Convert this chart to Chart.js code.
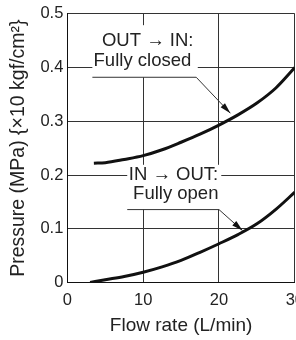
<!DOCTYPE html>
<html lang="en">
<head>
    <meta charset="UTF-8">
    <title>Pressure vs flow rate</title>
    <script src="https://cdn.jsdelivr.net/npm/chart.js@4.4.1/dist/chart.umd.min.js"></script>
    <style>
        * {
            margin: 0;
            padding: 0;
        }
        html, body {
            width: 296px;
            height: 340px;
            overflow: hidden;
            background: #fff;
        }
        /* canvas a bit wider than the window so the "30" label gets cut like the original */
        canvas {
            display: block;
        }
    </style>
</head>
<body>
<canvas id="myChart" width="312" height="340" style="width:312px;height:340px"></canvas>
<script>
    // values
    var flowClosed = [3.5, 5, 7.5, 10, 12.5, 15, 17.5, 20, 22.5, 25, 27.5, 30];
    var pressClosed = [0.222, 0.223, 0.229, 0.236, 0.247, 0.261, 0.276, 0.293, 0.312, 0.334, 0.362, 0.400];
    var flowOpen = [3, 5, 7.5, 10, 12.5, 15, 17.5, 20, 22.5, 25, 27.5, 30];
    var pressOpen = [0, 0.005, 0.011, 0.019, 0.029, 0.041, 0.056, 0.072, 0.089, 0.109, 0.136, 0.168];
    var xTicks = [0, 10, 20, 30];
    var yTicks = [0, 0.1, 0.2, 0.3, 0.4, 0.5];
    var noteClosed = ["OUT \u2192 IN:", "Fully closed"];
    var noteOpen = ["IN \u2192 OUT:", "Fully open"];

    var FONT = '"Liberation Sans", Arial, Helvetica, sans-serif';
    var INK = '#222';

    function pts(xs, ys) {
        var out = [];
        for (var i = 0; i < xs.length; i++) out.push({x: xs[i], y: ys[i]});
        return out;
    }

    // where the callout labels sit, in data units
    var notes = [
        {text: noteClosed, box: [3.3, 17.2, 0.479, 0.382], under: [3.3, 17.0, 0.382],
            lines: [[10.6, 0.449], [9.9, 0.412]], tip: [21.5, 0.315]},
        {text: noteOpen, box: [7.9, 20.3, 0.219, 0.1356], under: [7.9, 20.0, 0.1356],
            lines: [[14.0, 0.2], [14.3, 0.1655]], tip: [23.1, 0.0965]}
    ];

    var calloutPlugin = {
        id: 'callouts',
        beforeDatasetsDraw: function (chart) {
            // white boxes knock out the grid behind the labels
            var c = chart.ctx, xs = chart.scales.x, ys = chart.scales.y;
            c.save();
            c.fillStyle = '#fff';
            notes.forEach(function (n) {
                var x0 = xs.getPixelForValue(n.box[0]), x1 = xs.getPixelForValue(n.box[1]);
                var y0 = ys.getPixelForValue(n.box[2]), y1 = ys.getPixelForValue(n.box[3]);
                c.fillRect(x0, y0, x1 - x0, y1 - y0);
            });
            c.restore();
        },
        afterDatasetsDraw: function (chart) {
            var c = chart.ctx, xs = chart.scales.x, ys = chart.scales.y;
            c.save();
            c.font = '18.5px ' + FONT;
            c.textAlign = 'center';
            c.textBaseline = 'middle';
            notes.forEach(function (n) {
                c.fillStyle = INK;
                n.text.forEach(function (t, i) {
                    c.fillText(t, xs.getPixelForValue(n.lines[i][0]), ys.getPixelForValue(n.lines[i][1]));
                });
                var ux0 = xs.getPixelForValue(n.under[0]), ux1 = xs.getPixelForValue(n.under[1]);
                var uy = ys.getPixelForValue(n.under[2]);
                var tx = xs.getPixelForValue(n.tip[0]), ty = ys.getPixelForValue(n.tip[1]);
                c.strokeStyle = '#333';
                c.lineWidth = 1;
                c.beginPath();
                c.moveTo(ux0, uy);
                c.lineTo(ux1, uy);
                c.lineTo(tx, ty);
                c.stroke();
                // arrow head
                var a = Math.atan2(ty - uy, tx - ux1), len = 11, w = 3;
                c.fillStyle = '#111';
                c.beginPath();
                c.moveTo(tx, ty);
                c.lineTo(tx - len * Math.cos(a) + w * Math.sin(a), ty - len * Math.sin(a) - w * Math.cos(a));
                c.lineTo(tx - len * Math.cos(a) - w * Math.sin(a), ty - len * Math.sin(a) + w * Math.cos(a));
                c.closePath();
                c.fill();
            });
            c.restore();
        }
    };

    var ctx = document.getElementById('myChart').getContext('2d');
    var myChart = new Chart(ctx, {
        type: 'line',
        data: {
            datasets: [{
                label: 'OUT to IN',
                data: pts(flowClosed, pressClosed),
                borderColor: '#111',
                borderWidth: 3,
                pointRadius: 0,
                fill: false,
                cubicInterpolationMode: 'monotone'
            }, {
                label: 'IN to OUT',
                data: pts(flowOpen, pressOpen),
                borderColor: '#111',
                borderWidth: 3,
                pointRadius: 0,
                fill: false,
                cubicInterpolationMode: 'monotone'
            }]
        },
        options: {
            responsive: false,
            animation: false,
            layout: {padding: {left: 3, top: 3, right: 0, bottom: 0}},
            plugins: {
                legend: {display: false},
                tooltip: {enabled: false}
            },
            scales: {
                x: {
                    type: 'linear',
                    min: 0,
                    max: 30,
                    afterBuildTicks: function (s) {
                        s.ticks = xTicks.map(function (v) { return {value: v}; });
                    },
                    grid: {color: '#333', lineWidth: 1, drawTicks: false},
                    border: {color: '#111', width: 1},
                    ticks: {color: INK, padding: 8, font: {family: FONT, size: 16.5}, maxRotation: 0},
                    title: {
                        display: true,
                        text: 'Flow rate (L/min)',
                        color: INK,
                        font: {family: FONT, size: 19},
                        padding: {top: -4, bottom: 3}
                    }
                },
                y: {
                    type: 'linear',
                    min: 0,
                    max: 0.5,
                    afterBuildTicks: function (s) {
                        s.ticks = yTicks.map(function (v) { return {value: v}; });
                    },
                    grid: {color: '#333', lineWidth: 1, drawTicks: false},
                    border: {color: '#111', width: 1},
                    ticks: {color: INK, padding: 4, font: {family: FONT, size: 16.5}},
                    title: {
                        display: true,
                        text: 'Pressure (MPa) {\u00d710 kgf/cm\u00b2}',
                        color: INK,
                        font: {family: FONT, size: 19.5},
                        padding: {top: 4, bottom: 6}
                    }
                }
            }
        },
        plugins: [calloutPlugin]
    });
</script>
</body>
</html>
